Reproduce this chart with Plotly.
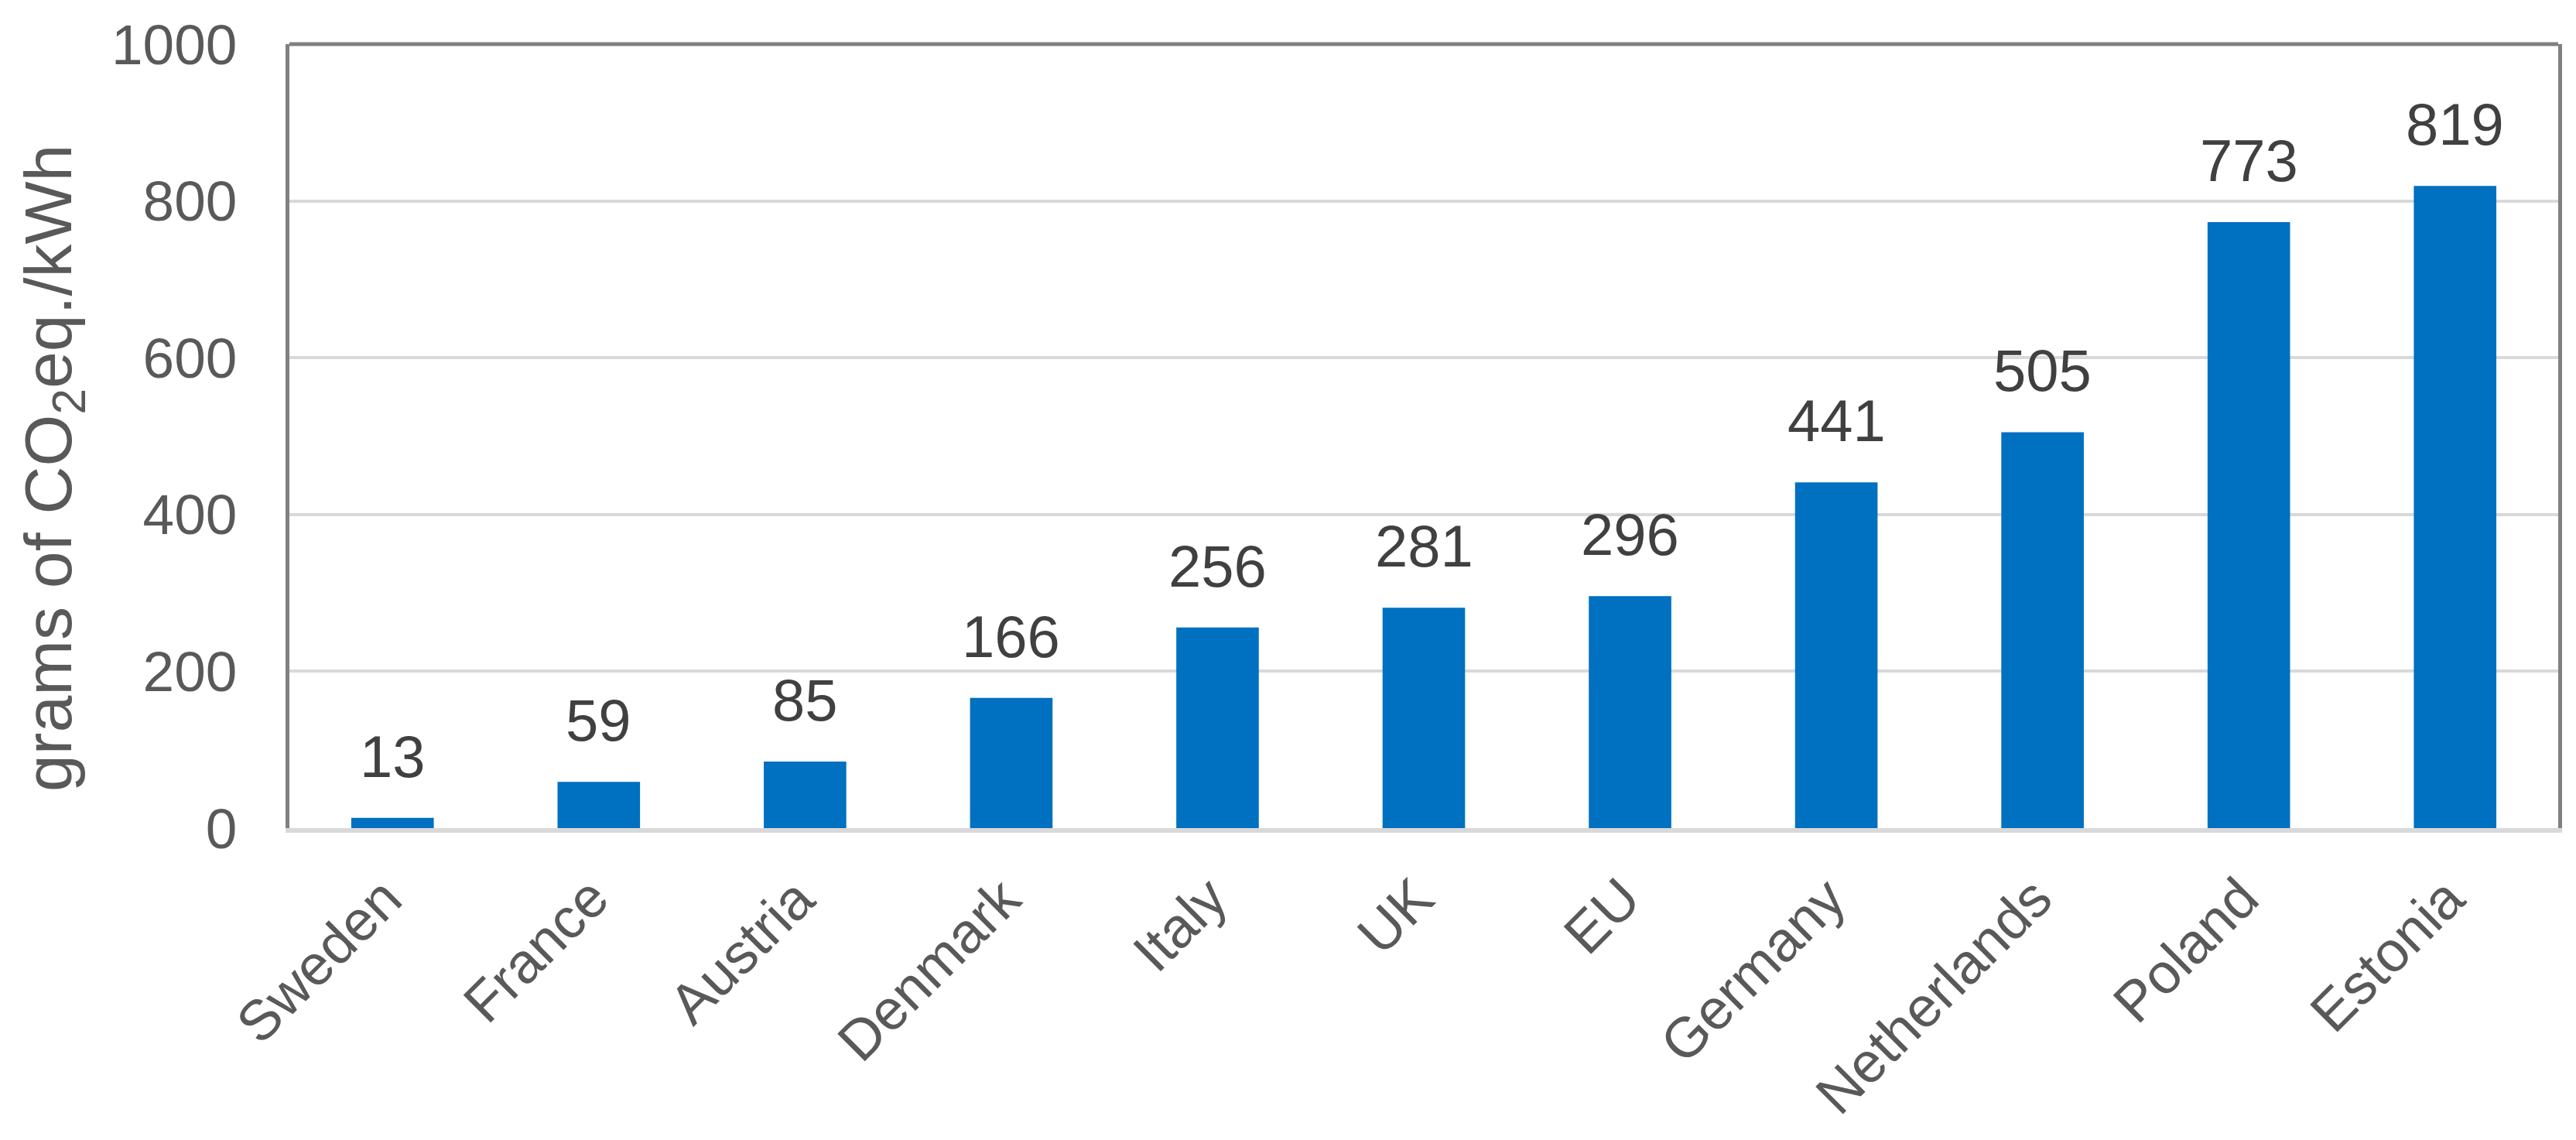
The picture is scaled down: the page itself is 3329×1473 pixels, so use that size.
import plotly.graph_objects as go

countries = ["Sweden", "France", "Austria", "Denmark", "Italy", "UK", "EU",
             "Germany", "Netherlands", "Poland", "Estonia"]
emissions = [13, 59, 85, 166, 256, 281, 296, 441, 505, 773, 819]
y_ticks = [0, 200, 400, 600, 800, 1000]
y_title = "grams of CO<sub>2</sub>eq./kWh"

# page body has an 8px margin; size the figure so the page is 3329x1473
OFF = 8
W, H = 3329 - OFF, 1473 - OFF
L, R, T, B = 374 - OFF, 23, 57 - OFF, 403
FONT = "Liberation Sans, Arial, sans-serif"

fig = go.Figure()
fig.add_trace(go.Bar(
    x=countries, y=emissions,
    marker=dict(color="#0070C0", line=dict(width=0)),
    hoverinfo="x+y",
))

# value labels above bars
for c, v in zip(countries, emissions):
    fig.add_annotation(
        x=c, y=v, xref="x", yref="y", text=str(v), showarrow=False,
        yanchor="bottom", xanchor="center", yshift=35,
        font=dict(family=FONT, size=76, color="#404040"),
    )

# rotated category labels
for c in countries:
    fig.add_annotation(
        x=c, y=0, xref="x", yref="y", text=c, showarrow=False,
        textangle=-45, xanchor="right", yanchor="top",
        xshift=30, yshift=-46,
        font=dict(family=FONT, size=73, color="#595959"),
    )

pw = W - L - R
ph = H - T - B
fig.add_annotation(
    xref="paper", yref="paper",
    x=(68 - OFF - L) / pw, y=(H - B - (605 - OFF)) / ph,
    text=y_title, textangle=-90, showarrow=False,
    xanchor="center", yanchor="middle",
    font=dict(family=FONT, size=86, color="#595959"),
)

# top border
fig.add_shape(type="line", xref="paper", yref="paper", x0=0, x1=1, y0=1, y1=1,
              line=dict(color="#808080", width=5), layer="above")

fig.update_layout(
    width=W, height=H,
    margin=dict(l=L, r=R, t=T, b=B, pad=0, autoexpand=False),
    paper_bgcolor="white", plot_bgcolor="white",
    bargap=0.6,
    showlegend=False,
    font=dict(family=FONT, color="#595959"),
    xaxis=dict(
        range=[-0.5, len(countries) - 0.5], autorange=False,
        automargin=False, showticklabels=False,
        showline=True, linecolor="#d9d9d9", linewidth=6,
        showgrid=False, ticks="",
    ),
    yaxis=dict(
        range=[0, 1000], autorange=False, tickvals=y_ticks, automargin=False,
        tickfont=dict(family=FONT, size=73, color="#595959"),
        showgrid=True, gridcolor="#d9d9d9", gridwidth=4,
        zeroline=False,
        showline=True, mirror=True, linecolor="#808080", linewidth=5,
        ticks="", ticklabelstandoff=48,
    ),
)

fig.write_html("out.html")
